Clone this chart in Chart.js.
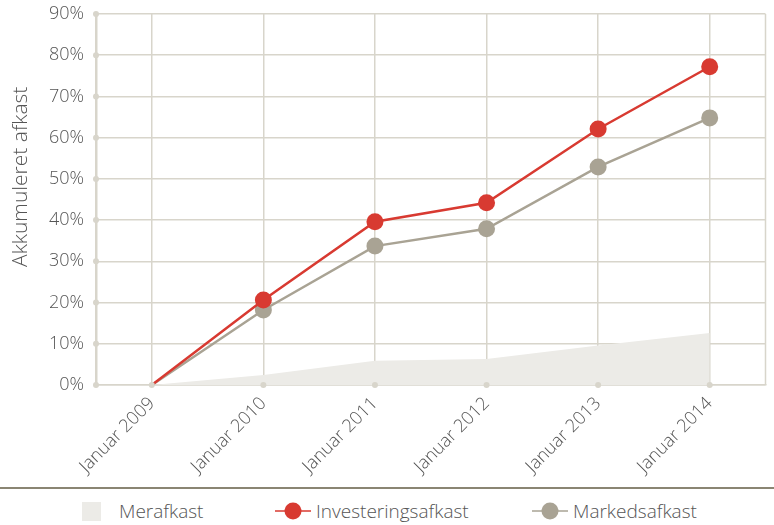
<!DOCTYPE html>
<html lang="da">
<head>
  <meta charset="UTF-8">
  <title>Akkumuleret afkast</title>
  <style>
    body {
      margin: 0;
      background: #fff;
      font-family: 'Open Sans', sans-serif;
      color: #555;
    }
    .wrap {
      width: 774px;
      height: 525px;
      position: relative;
    }
    .plot {
      width: 774px;
      height: 478px;
      position: relative;
    }
    .rule {
      position: absolute;
      top: 487px;
      left: 0;
      width: 774px;
      height: 2px;
      background: #8a8573;
    }
    .legend {
      position: absolute;
      top: 498px;
      left: 0;
      width: 774px;
      height: 26px;
      font-size: 19px;
      font-weight: 300;
      color: #555;
    }
    .legend span.item {
      position: absolute;
      top: 0;
      display: flex;
      align-items: center;
      height: 26px;
    }
    .legend .swatch {
      display: inline-block;
    }
  </style>
  <script src="https://cdn.jsdelivr.net/npm/chart.js"></script>
</head>
<body>
  <div class="wrap">
    <div class="plot"><canvas id="afkastChart"></canvas></div>
    <div class="rule"></div>
    <div class="legend" id="legend"></div>
  </div>

  <script>
    const years = ['Januar 2009', 'Januar 2010', 'Januar 2011', 'Januar 2012', 'Januar 2013', 'Januar 2014'];
    const investeringsafkast = [0, 20.6, 39.6, 44.2, 62.1, 77.2];
    const markedsafkast = [0, 18.2, 33.7, 37.9, 52.9, 64.8];
    const merafkast = [0, 2.4, 5.9, 6.3, 9.6, 12.6];
    const yTicks = [0, 10, 20, 30, 40, 50, 60, 70, 80, 90];
    const yTitle = 'Akkumuleret afkast';

    const gridColor = '#d8d5cb';
    const red = '#d83a31';
    const grey = '#a9a394';
    const fillGrey = '#ecebe7';
    const textColor = '#555';

    // small dots where the grid meets the axes, right-hand border, y title
    const axisDots = {
      id: 'axisDots',
      afterDraw(chart) {
        const c = chart.ctx;
        const area = chart.chartArea;
        const x = chart.scales.x, y = chart.scales.y;
        c.save();
        c.strokeStyle = gridColor;
        c.lineWidth = 1.5;
        c.beginPath();
        c.moveTo(area.right, area.top);
        c.lineTo(area.right, area.bottom);
        c.stroke();
        c.fillStyle = gridColor;
        y.ticks.forEach((t, i) => {
          c.beginPath();
          c.arc(area.left, y.getPixelForTick(i), 3, 0, Math.PI * 2);
          c.fill();
        });
        x.ticks.forEach((t, i) => {
          c.beginPath();
          c.arc(x.getPixelForTick(i), area.bottom, 3, 0, Math.PI * 2);
          c.fill();
        });
        // axis title, sits a bit above the middle like the original
        c.translate(21, y.getPixelForValue(50.5));
        c.rotate(-Math.PI / 2);
        c.fillStyle = textColor;
        c.font = '300 21px "Open Sans"';
        c.textAlign = 'center';
        c.textBaseline = 'middle';
        c.fillText(yTitle, 0, 0);
        c.restore();
      }
    };

    const ctx = document.getElementById('afkastChart').getContext('2d');
    const chart = new Chart(ctx, {
      type: 'line',
      data: {
        labels: years,
        datasets: [
          {
            label: 'Investeringsafkast',
            data: investeringsafkast,
            borderColor: red,
            backgroundColor: red,
            borderWidth: 2.5,
            pointRadius: (c) => c.dataIndex === 0 ? 0 : 8.5,
            pointBorderWidth: 0,
            fill: false,
            order: 0
          },
          {
            label: 'Markedsafkast',
            data: markedsafkast,
            borderColor: grey,
            backgroundColor: grey,
            borderWidth: 2.5,
            pointRadius: (c) => c.dataIndex === 0 ? 0 : 8.5,
            pointBorderWidth: 0,
            fill: false,
            order: 1
          },
          {
            label: 'Merafkast',
            data: merafkast,
            borderWidth: 0,
            borderColor: 'rgba(0,0,0,0)',
            backgroundColor: fillGrey,
            pointRadius: 0,
            fill: 'origin',
            order: 2
          }
        ]
      },
      options: {
        responsive: true,
        maintainAspectRatio: false,
        animation: false,
        layout: { padding: { top: 14, right: 0, left: 0, bottom: 0 } },
        plugins: {
          legend: { display: false },
          tooltip: { enabled: false }
        },
        scales: {
          x: {
            offset: true,
            grid: { offset: false, color: gridColor, lineWidth: 1.5, drawTicks: false },
            border: { color: gridColor, width: 1.5 },
            ticks: {
              color: textColor,
              font: { family: 'Open Sans', size: 18, weight: '300' },
              maxRotation: 45,
              minRotation: 45,
              padding: 8
            },
            afterFit: (s) => { s.height = 93; s.paddingLeft = 0; s.paddingRight = 0; }
          },
          y: {
            min: 0,
            max: 90,
            afterBuildTicks: (s) => { s.ticks = yTicks.map(v => ({ value: v })); },
            grid: { color: gridColor, lineWidth: 1.5, drawTicks: false },
            border: { color: gridColor, width: 2.5 },
            ticks: {
              color: textColor,
              font: { family: 'Open Sans', size: 18, weight: '300' },
              padding: 12,
              callback: (v) => v + '%'
            },
            afterFit: (s) => { s.width = 96; s.paddingTop = 0; s.paddingBottom = 0; }
          }
        }
      },
      plugins: [axisDots]
    });

    // HTML legend built from the datasets
    const legendPos = { 'Merafkast': 82, 'Investeringsafkast': 275, 'Markedsafkast': 532 };
    const legendOrder = ['Merafkast', 'Investeringsafkast', 'Markedsafkast'];
    const legendEl = document.getElementById('legend');
    legendOrder.forEach(name => {
      const ds = chart.data.datasets.find(d => d.label === name);
      const item = document.createElement('span');
      item.className = 'item';
      item.style.left = legendPos[name] + 'px';
      let sw;
      if (ds.fill === 'origin') {
        sw = `<span class="swatch" style="width:19px;height:19px;background:${ds.backgroundColor};margin-right:18px"></span>`;
      } else {
        sw = `<svg class="swatch" width="36" height="20" style="margin-right:5px"><line x1="0" y1="10" x2="36" y2="10" stroke="${ds.borderColor}" stroke-width="1.5"/><circle cx="18" cy="10" r="8.5" fill="${ds.backgroundColor}"/></svg>`;
      }
      item.innerHTML = sw + '<span>' + name + '</span>';
      legendEl.appendChild(item);
    });
  </script>
</body>
</html>
